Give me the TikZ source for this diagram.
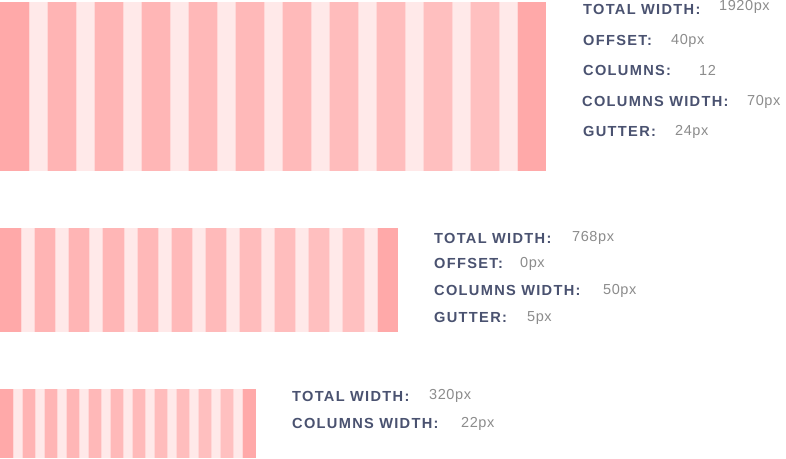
\documentclass[tikz,border=0pt]{standalone}
\usepackage{fontspec}
\newfontfamily\labfont{Liberation Sans}[LetterSpace=9]
\newfontfamily\valfont{Liberation Sans}[LetterSpace=4]
\definecolor{offc}{HTML}{FFA9A9}
\definecolor{lightc}{HTML}{FFE9E9}
\definecolor{edgec}{HTML}{FFD8D8}
\definecolor{labc}{HTML}{4A5270}
\definecolor{valc}{HTML}{8C8C8C}
\tikzset{
  lab/.style={anchor=base west, inner sep=0pt, text=labc, font=\labfont\bfseries\fontsize{14.6}{15}\selectfont},
  val/.style={anchor=base west, inner sep=0pt, text=valc, font=\valfont\fontsize{14.5}{15}\selectfont},
}
% y0 y1 offset light pink
\newcommand{\gridbar}[5]{%
  \pgfmathsetmacro{\gtot}{2*#3+11*#4+10*#5}
  \fill[offc] (0,#1) rectangle (#3,#2);
  \fill[offc] (\gtot-#3,#1) rectangle (\gtot,#2);
  \foreach \k in {0,...,9}{
    \pgfmathsetmacro{\xb}{#3+#4+\k*(#4+#5)}
    \pgfmathtruncatemacro{\gg}{180+\k*1.4}
    \definecolor{pk}{RGB}{255,\gg,\gg}
    \fill[pk] (\xb,#1) rectangle (\xb+#5,#2);
  }
  \foreach \k in {0,...,10}{
    \pgfmathsetmacro{\xa}{#3+\k*(#4+#5)}
    \fill[lightc] (\xa,#1) rectangle (\xa+#4,#2);
    \draw[edgec, line width=0.7pt] (\xa,#1) -- (\xa,#2) (\xa+#4,#1) -- (\xa+#4,#2);
  }
}
\begin{document}
\begin{tikzpicture}[x=1pt,y=-1pt]
\useasboundingbox (0,0) rectangle (786,458);
\fill[white] (0,0) rectangle (786,458);
\gridbar{2}{171}{29}{18}{29}
\gridbar{228}{332}{21}{13}{21.3}
\gridbar{389}{458}{13.7}{8.2}{13.8}
% bar 1 labels
\node[lab] (l1a) at (583,14.5) {TOTAL WIDTH:};
\node[val] (v1a) at (719,10.5) {1920px};
\node[lab] (l1b) at (583,45) {OFFSET:};
\node[val] (v1b) at (671,44) {40px};
\node[lab] (l1c) at (583,75) {COLUMNS:};
\node[val] (v1c) at (699,75) {12};
\node[lab] (l1d) at (582,106) {COLUMNS WIDTH:};
\node[val] (v1d) at (747,105) {70px};
\node[lab] (l1e) at (583,136) {GUTTER:};
\node[val] (v1e) at (675,135) {24px};
% bar 2 labels
\node[lab] (l2a) at (434,243) {TOTAL WIDTH:};
\node[val] (v2a) at (572,241) {768px};
\node[lab] (l2b) at (434,268) {OFFSET:};
\node[val] (v2b) at (520,267) {0px};
\node[lab] (l2c) at (434,295) {COLUMNS WIDTH:};
\node[val] (v2c) at (603,294) {50px};
\node[lab] (l2d) at (434,322) {GUTTER:};
\node[val] (v2d) at (527,321) {5px};
% bar 3 labels
\node[lab] (l3a) at (292,401) {TOTAL WIDTH:};
\node[val] (v3a) at (429,399) {320px};
\node[lab] (l3b) at (292,428) {COLUMNS WIDTH:};
\node[val] (v3b) at (461,427) {22px};
\end{tikzpicture}
\end{document}
